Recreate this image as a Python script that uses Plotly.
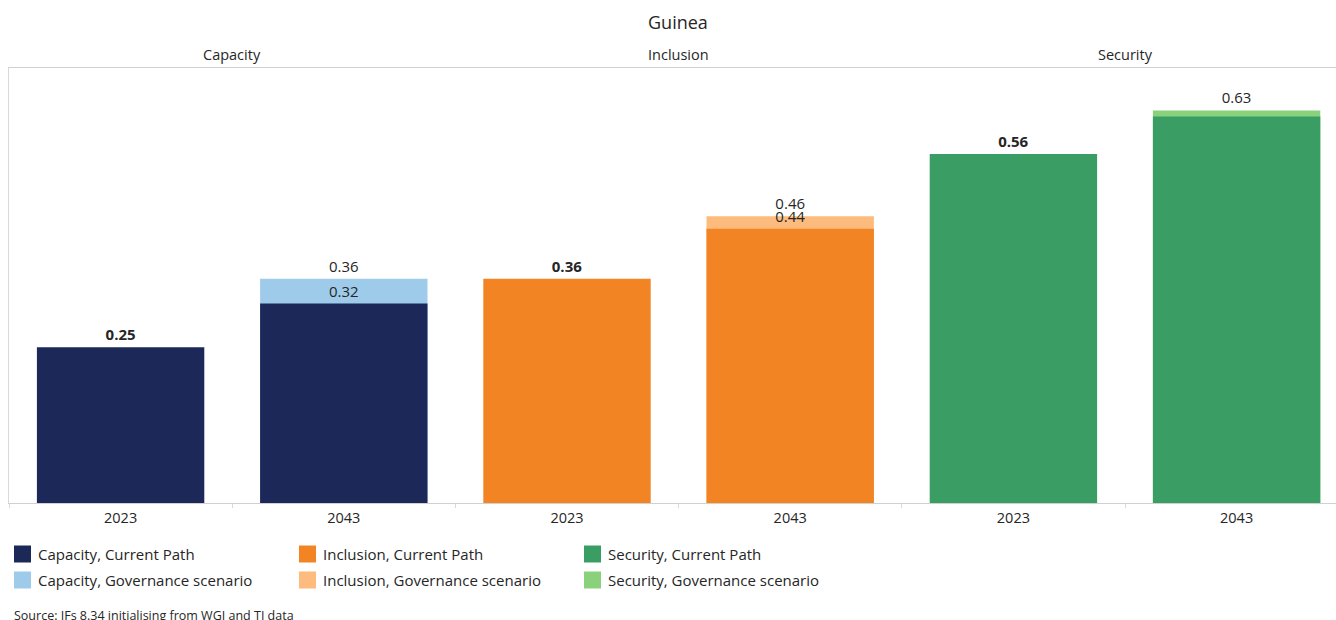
import plotly.graph_objects as go

# Governance index by dimension, Guinea
categories = ["Capacity 2023", "Capacity 2043", "Inclusion 2023",
              "Inclusion 2043", "Security 2023", "Security 2043"]
years = ["2023", "2043", "2023", "2043", "2023", "2043"]
dimensions = ["Capacity", "Inclusion", "Security"]

current_path = {
    "Capacity": [0.25, 0.32],
    "Inclusion": [0.36, 0.44],
    "Security": [0.56, 0.62],
}
governance = {
    "Capacity": 0.36,
    "Inclusion": 0.46,
    "Security": 0.63,
}
# which current-path values carry a data label
current_labelled = {
    "Capacity": [True, True],
    "Inclusion": [True, True],
    "Security": [True, False],
}

colors_cp = {"Capacity": "#1b2858", "Inclusion": "#f28424", "Security": "#3a9e64"}
colors_gov = {"Capacity": "#9fcbea", "Inclusion": "#fdbb7d", "Security": "#8ad17c"}

FONT = "Open Sans"
TXT = "#262626"
CAT_W = 223.2  # pixel width of one category slot

fig = go.Figure()

# governance scenario bars sit behind the current-path bars
for d in dimensions:
    fig.add_trace(go.Bar(
        x=[f"{d} 2043"], y=[governance[d]],
        marker=dict(color=colors_gov[d], line=dict(width=0)),
        width=0.75,
        text=[f"{governance[d]:.2f}"], textposition="outside",
        textfont=dict(family=FONT, size=15, color=TXT),
        cliponaxis=False, showlegend=False, name=f"{d}, Governance scenario",
    ))

for d in dimensions:
    vals = current_path[d]
    labels = []
    for i, v in enumerate(vals):
        if not current_labelled[d][i]:
            labels.append("")
        elif i == 0:
            labels.append(f"<b>{v:.2f}</b>")
        else:
            labels.append(f"{v:.2f}")
    fig.add_trace(go.Bar(
        x=[f"{d} 2023", f"{d} 2043"], y=vals,
        marker=dict(color=colors_cp[d], line=dict(width=0)),
        width=0.75,
        text=labels, textposition="outside",
        textfont=dict(family=FONT, size=15, color=TXT),
        cliponaxis=False, showlegend=False, name=f"{d}, Current Path",
    ))

# pixel -> paper helpers for the plot area (x 9..1336, y 68..503)
X0, X1, Y0, Y1 = 9, 1336, 503, 68
def px(x):
    return (x - X0) / (X1 - X0)
def py(y):
    return (Y0 - y) / (Y0 - Y1)

shapes = []
annotations = []

# legend drawn as swatches + labels in three columns
legend_cols = [14, 299, 584]
legend_rows = [554, 580]
for c, d in enumerate(dimensions):
    for r, (lab, col) in enumerate([("Current Path", colors_cp[d]),
                                    ("Governance scenario", colors_gov[d])]):
        xc, yc = legend_cols[c], legend_rows[r]
        shapes.append(dict(type="rect", xref="paper", yref="paper",
                           x0=px(xc), x1=px(xc + 17), y0=py(yc + 8.5), y1=py(yc - 8.5),
                           fillcolor=col, line=dict(width=0)))
        annotations.append(dict(xref="paper", yref="paper", x=px(xc + 22), y=py(yc),
                                xanchor="left", yanchor="middle", showarrow=False,
                                text=f"{d}, {lab}",
                                font=dict(family=FONT, size=15, color=TXT)))

# panel headers
for i, d in enumerate(dimensions):
    annotations.append(dict(xref="x", yref="paper", x=2 * i + 0.5, y=py(54),
                            xanchor="center", yanchor="middle", showarrow=False,
                            text=d, font=dict(family=FONT, size=14.5, color=TXT)))

annotations.append(dict(xref="paper", yref="paper", x=px(678), y=py(22),
                        xanchor="center", yanchor="middle", showarrow=False,
                        text="Guinea", font=dict(family=FONT, size=18, color=TXT)))
annotations.append(dict(xref="paper", yref="paper", x=px(12), y=py(615),
                        xanchor="left", yanchor="middle", showarrow=False,
                        text="Source: IFs 8.34 initialising from WGI and TI data",
                        font=dict(family=FONT, size=12.5, color=TXT)))

fig.update_layout(
    width=1336, height=620,
    margin=dict(l=9, r=0, t=68, b=117),
    paper_bgcolor="white", plot_bgcolor="white",
    barmode="overlay",
    shapes=shapes, annotations=annotations,
    xaxis=dict(
        type="category", categoryorder="array", categoryarray=categories,
        tickvals=categories, ticktext=years,
        range=[-0.5, -0.5 + (X1 - X0) / CAT_W],
        tickson="boundaries", ticks="outside", ticklen=4, tickcolor="#d9d9d9",
        ticklabelstandoff=2,
        showline=True, linecolor="#d0d0d0", linewidth=1, mirror=True,
        showgrid=False, zeroline=False,
        tickfont=dict(family=FONT, size=14.5, color=TXT),
    ),
    yaxis=dict(
        range=[0, 0.698], showticklabels=False, ticks="",
        showline=True, linecolor="#d9d9d9", linewidth=1, mirror=True,
        showgrid=False, zeroline=False,
    ),
)

fig.write_html("out.html")
